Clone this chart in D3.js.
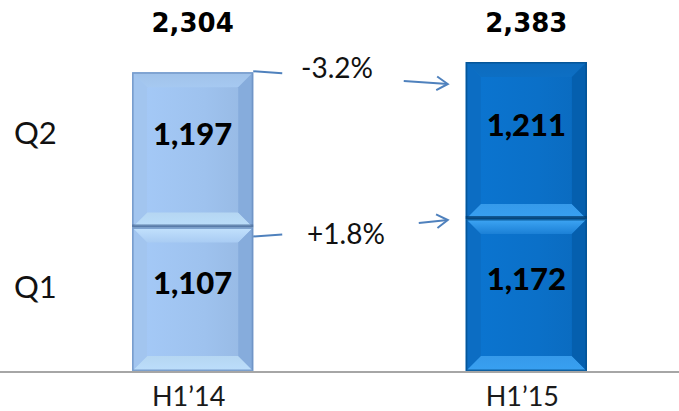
<!DOCTYPE html>
<html>
<head>
<meta charset="utf-8">
<script src="https://cdn.jsdelivr.net/npm/d3@7"></script>
<style>
  html, body { margin: 0; padding: 0; background: #fff; }
  svg { display: block; }
</style>
</head>
<body>
<svg id="chart" width="679" height="411"></svg>
<script>
// Half-year revenue split by quarter
const periods = ["H1\u201914", "H1\u201915"];
const quarters = ["Q1", "Q2"];
const q1Values = [1107, 1172];
const q2Values = [1197, 1211];
const totalLabels = ["2,304", "2,383"];
const changeLabels = { Q2: "-3.2%", Q1: "+1.8%" };

const W = 679, H = 411;
const baseY = 371;

const svg = d3.select("#chart");
const defs = svg.append("defs");

const totals = periods.map((p, i) => q1Values[i] + q2Values[i]);

const x = d3.scaleBand()
  .domain(periods)
  .range([32, 687])
  .paddingInner(0.637)
  .paddingOuter(0.3);

const y = d3.scaleLinear()
  .domain([0, d3.max(totals)])
  .range([baseY, 62]);

// colour palettes for the two bevelled bars
const palettes = [
  { face: "#9ec2ee", top: "#a6c9f1", light: "#c3e2fd", bottom: "#bcdefb", left: "#a2c5ef", right: "#86acdc", edge: "#6a90c2", seam: "#4d6f9c" },
  { face: "#0b70c8", top: "#0d6fc4", light: "#3fa6f5", bottom: "#38a0f2", left: "#0c6dc3", right: "#055fae", edge: "#04508f", seam: "#033d70" }
];

function vGrad(id, c0, c1) {
  const g = defs.append("linearGradient").attr("id", id)
    .attr("x1", 0).attr("x2", 0).attr("y1", 0).attr("y2", 1);
  g.append("stop").attr("offset", 0).attr("stop-color", c0);
  g.append("stop").attr("offset", 1).attr("stop-color", c1);
}

palettes.forEach((pal, i) => {
  // face: slightly lighter on the left
  const g = defs.append("linearGradient").attr("id", "face" + i)
    .attr("x1", 0).attr("x2", 1).attr("y1", 0).attr("y2", 0);
  g.append("stop").attr("offset", 0).attr("stop-color", d3.color(pal.face).brighter(0.12));
  g.append("stop").attr("offset", 0.6).attr("stop-color", pal.face);
  g.append("stop").attr("offset", 1).attr("stop-color", d3.color(pal.face).darker(0.15));
  vGrad("bot" + i, d3.color(pal.bottom).darker(0.1), pal.bottom);
  vGrad("top" + i, d3.color(pal.top).darker(0.1), pal.top);
  vGrad("topL" + i, pal.light, d3.interpolateRgb(pal.light, pal.face)(0.7));
});

// stacked segments
const segments = [];
periods.forEach((p, i) => {
  let acc = 0;
  [q1Values[i], q2Values[i]].forEach((v, k) => {
    segments.push({ period: p, idx: i, quarter: quarters[k], value: v, y0: acc, y1: acc + v });
    acc += v;
  });
});

const bev = 15;
const segG = svg.append("g");

segments.forEach(s => {
  const pal = palettes[s.idx];
  const x0 = x(s.period), x1 = x0 + x.bandwidth();
  const yt = y(s.y1), yb = y(s.y0);
  const b = Math.min(bev, (yb - yt) / 2);
  const isTop = s.y1 === totals[s.idx];
  const g = segG.append("g");
  g.append("rect").attr("x", x0).attr("y", yt).attr("width", x1 - x0).attr("height", yb - yt)
    .attr("fill", `url(#face${s.idx})`);
  const poly = (pts, fill) => g.append("polygon")
    .attr("points", pts.map(p => p.join(",")).join(" ")).attr("fill", fill);
  poly([[x0, yt], [x1, yt], [x1 - b, yt + b], [x0 + b, yt + b]], isTop ? `url(#top${s.idx})` : `url(#topL${s.idx})`);
  poly([[x0, yb], [x1, yb], [x1 - b, yb - b], [x0 + b, yb - b]], `url(#bot${s.idx})`);
  poly([[x0, yt], [x0 + b, yt + b], [x0 + b, yb - b], [x0, yb]], pal.left);
  poly([[x1, yt], [x1 - b, yt + b], [x1 - b, yb - b], [x1, yb]], pal.right);
  // outer edge
  g.append("rect").attr("x", x0 + 0.75).attr("y", yt + 0.75)
    .attr("width", x1 - x0 - 1.5).attr("height", yb - yt - 1.5)
    .attr("fill", "none").attr("stroke", pal.edge).attr("stroke-width", 1.5).attr("stroke-opacity", 0.8);
  // dark seam at the bottom of the upper segment
  if (s.y0 > 0) {
    g.append("rect").attr("x", x0).attr("y", yb - 3).attr("width", x1 - x0).attr("height", 3)
      .attr("fill", pal.seam).attr("opacity", 0.75);
  }
  // segment value label
  g.append("text")
    .attr("x", x0 + x.bandwidth() / 2)
    .attr("y", (yt + yb) / 2 - 16)
    .attr("dy", "0.36em")
    .attr("text-anchor", "middle")
    .attr("font-family", "Lato, 'Open Sans', sans-serif")
    .attr("font-weight", 900)
    .attr("font-size", 31)
    .attr("fill", "#000")
    .text(d3.format(",")(s.value));
});

// baseline
svg.append("line").attr("x1", 0).attr("x2", W).attr("y1", baseY + 1).attr("y2", baseY + 1)
  .attr("stroke", "#a6a6a6").attr("stroke-width", 2);

// category axis
const xAxis = svg.append("g").attr("transform", `translate(-4,${baseY + 1})`)
  .call(d3.axisBottom(x).tickSize(0).tickPadding(15));
xAxis.select(".domain").remove();
xAxis.selectAll("text")
  .attr("font-family", "Lato, sans-serif")
  .attr("font-size", 27)
  .attr("fill", "#1a1a1a");

// totals above bars
svg.append("g").selectAll("text").data(periods).join("text")
  .attr("x", d => x(d) + x.bandwidth() / 2)
  .attr("y", 32)
  .attr("text-anchor", "middle")
  .attr("font-family", "'DejaVu Sans', sans-serif")
  .attr("font-weight", "bold")
  .attr("font-size", 26)
  .attr("fill", "#000")
  .text((d, i) => totalLabels[i]);

// quarter labels on the left, aligned with the second bar's segments
const last = periods.length - 1;
const qMid = {
  Q1: (y(0) + y(q1Values[last])) / 2,
  Q2: (y(q1Values[last]) + y(totals[last])) / 2
};
svg.append("g").selectAll("text").data(quarters).join("text")
  .attr("x", 14)
  .attr("y", d => qMid[d] - 8)
  .attr("dy", "0.36em")
  .attr("font-family", "Lato, sans-serif")
  .attr("font-size", 31)
  .attr("fill", "#111")
  .text(d => d);

// change annotations: connector, percentage and arrow
const lineColor = "#4f81bd";
const xl = x(periods[0]) + x.bandwidth();
const xr = x(periods[1]);
const ann = [
  { label: changeLabels.Q2, yL: y(totals[0]) - 1, yR: y(totals[1]) + 22, tx: 337, ty: y(totals[0]) + 6,
    a0: xr - 62, aDy: 3 },
  { label: changeLabels.Q1, yL: y(q1Values[0]) + 9, yR: y(q1Values[1]) + 1, tx: 346, ty: y(q1Values[0]) + 17,
    a0: xr - 47, aDy: -3 }
];
const annG = svg.append("g");
ann.forEach(a => {
  annG.append("line").attr("x1", xl).attr("y1", a.yL).attr("x2", xl + 29).attr("y2", a.yL + (a.aDy > 0 ? 2 : -2))
    .attr("stroke", lineColor).attr("stroke-width", 2);
  annG.append("text").attr("x", a.tx).attr("y", a.ty).attr("text-anchor", "middle")
    .attr("font-family", "Lato, sans-serif").attr("font-size", 28).attr("fill", "#111")
    .text(a.label);
  const ex = xr - 18, ey = a.yR;
  const sx = a.a0, sy = ey - a.aDy;
  annG.append("line").attr("x1", sx).attr("y1", sy).attr("x2", ex).attr("y2", ey)
    .attr("stroke", lineColor).attr("stroke-width", 2);
  const ang = Math.atan2(ey - sy, ex - sx);
  const len = 13, spread = 0.55;
  const p1 = [ex - len * Math.cos(ang - spread), ey - len * Math.sin(ang - spread)];
  const p2 = [ex - len * Math.cos(ang + spread), ey - len * Math.sin(ang + spread)];
  annG.append("path")
    .attr("d", `M${p1[0]},${p1[1]}L${ex},${ey}L${p2[0]},${p2[1]}`)
    .attr("fill", "none").attr("stroke", lineColor).attr("stroke-width", 2);
});
</script>
</body>
</html>
